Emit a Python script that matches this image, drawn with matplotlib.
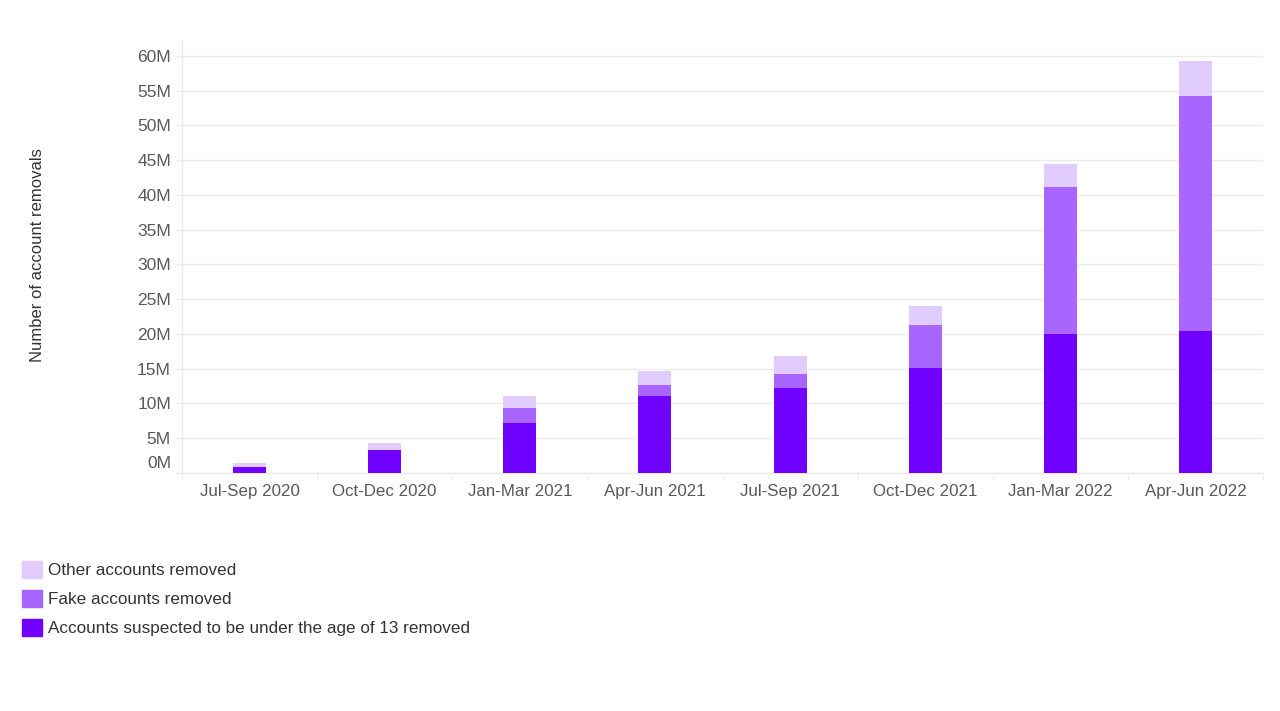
import matplotlib
matplotlib.use("Agg")
import matplotlib.pyplot as plt
from matplotlib.patches import Patch
import numpy as np

categories = ["Jul-Sep 2020", "Oct-Dec 2020", "Jan-Mar 2021", "Apr-Jun 2021",
              "Jul-Sep 2021", "Oct-Dec 2021", "Jan-Mar 2022", "Apr-Jun 2022"]
under13 = [0.78, 3.22, 7.16, 11.0, 12.24, 15.08, 20.02, 20.4]
fake = [0.0, 0.0, 2.16, 1.68, 1.93, 6.19, 21.16, 33.88]
other = [0.66, 1.1, 1.72, 1.96, 2.59, 2.73, 3.27, 5.04]
yticks = [0, 5, 10, 15, 20, 25, 30, 35, 40, 45, 50, 55, 60]

c_dark = "#7000FF"
c_mid = "#A966FF"
c_light = "#E1CCFF"
grid_c = "#EBEBEB"

plt.rcParams['font.family'] = ['Liberation Sans', 'DejaVu Sans']

fig = plt.figure(figsize=(12.8, 7.11), dpi=100)
ax = fig.add_axes([182/1280, 1-472.7/711, (1263-182)/1280, (472.7-40)/711])

x = np.arange(len(categories))
w = 0.245
u = np.array(under13); f = np.array(fake); o = np.array(other)
ax.bar(x, u, w, color=c_dark, zorder=3)
ax.bar(x, f, w, bottom=u, color=c_mid, zorder=3)
ax.bar(x, o, w, bottom=u+f, color=c_light, zorder=3)

ax.set_xlim(-0.5, len(categories)-0.5)
ax.set_ylim(0, 62.3)
ax.set_yticks(yticks)
ax.set_yticklabels(["" if v == 0 else f"{v}M" for v in yticks])
ax.annotate("0M", xy=(0, 0), xycoords=('axes fraction', 'data'),
            xytext=(-10.5, 9), textcoords='offset pixels', ha='right', va='center',
            fontsize=12.5, color='#595959')
ax.yaxis.grid(True, color=grid_c, linewidth=1, zorder=0)
ax.tick_params(axis='y', length=5, color=grid_c, pad=3, labelsize=12.5, labelcolor='#595959')

ax.set_xticks(x)
ax.set_xticklabels(categories)
ax.set_xticks(np.arange(-0.5, len(categories)), minor=True)
ax.tick_params(axis='x', which='major', length=0, pad=8, labelsize=12.2, labelcolor='#595959')
ax.tick_params(axis='x', which='minor', length=5, color=grid_c)

for s in ['top', 'right']:
    ax.spines[s].set_visible(False)
for s in ['left', 'bottom']:
    ax.spines[s].set_color(grid_c)
    ax.spines[s].set_linewidth(1)

fig.text(38/1280, 1-255/711, "Number of account removals", rotation=90,
         ha='center', va='center', fontsize=12, color='#333333')

handles = [Patch(color=c_light), Patch(color=c_mid), Patch(color=c_dark)]
labels = ["Other accounts removed", "Fake accounts removed",
          "Accounts suspected to be under the age of 13 removed"]
fig.legend(handles, labels, loc='upper left', bbox_to_anchor=(22/1280, 1-561/711),
           frameon=False, fontsize=12.3, handlelength=1.15, handleheight=1.15,
           handletextpad=0.4, labelspacing=0.68, borderpad=0, borderaxespad=0,
           labelcolor='#333333')

fig.savefig("out.png", dpi=100)
